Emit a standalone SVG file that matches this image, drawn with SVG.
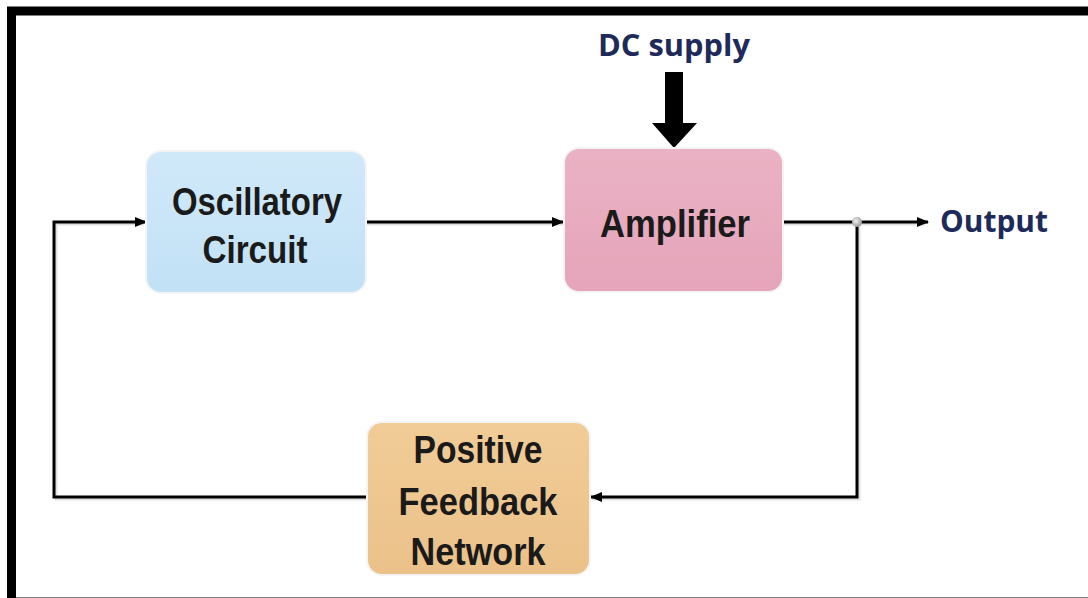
<svg xmlns="http://www.w3.org/2000/svg" width="1088" height="598" viewBox="0 0 1088 598">
  <defs>
    <marker id="ah" viewBox="0 0 12 10" refX="11" refY="5" markerWidth="13" markerHeight="10" markerUnits="userSpaceOnUse" orient="auto">
      <path d="M0,0 L12,5 L0,10 Z" fill="#000"/>
    </marker>
    <linearGradient id="gBlue" x1="0" y1="0" x2="0" y2="1">
      <stop offset="0" stop-color="#d0e9f9"/>
      <stop offset="1" stop-color="#c2e1f6"/>
    </linearGradient>
    <linearGradient id="gPink" x1="0" y1="0" x2="0" y2="1">
      <stop offset="0" stop-color="#eab2c4"/>
      <stop offset="1" stop-color="#e5a4b9"/>
    </linearGradient>
    <linearGradient id="gOrange" x1="0" y1="0" x2="0" y2="1">
      <stop offset="0" stop-color="#f1cc97"/>
      <stop offset="1" stop-color="#ebc189"/>
    </linearGradient>
    <radialGradient id="gDot" cx="0.4" cy="0.4" r="0.6">
      <stop offset="0" stop-color="#f2f2f2"/>
      <stop offset="1" stop-color="#9a9a9a"/>
    </radialGradient>
  </defs>
  <style>
    .box { stroke: #f4f4f4; stroke-width: 2; }
    .lbl { font-family: "Liberation Sans", Arial, sans-serif; font-weight: bold; font-size: 39px; fill: #1a1a1a; text-anchor: middle; }
    .io { font-family: "Open Sans", "Noto Sans", sans-serif; font-weight: bold; font-size: 31px; fill: #1e2a5a; }
    .wire { fill: none; stroke: #000; stroke-width: 3; }
    .shadow { fill: none; stroke: #000; stroke-width: 3; opacity: 0.12; }
  </style>
  <rect x="0" y="0" width="1088" height="598" fill="#fff"/>
  <rect x="11.5" y="11" width="1090" height="591" fill="none" stroke="#000" stroke-width="9"/>

  <g id="connectors">
    <path class="shadow" d="M367,224 L563,224"/>
    <path class="shadow" d="M783,224 L925,224"/>
    <path class="shadow" d="M859,224 L859,499 L592,499"/>
    <path class="shadow" d="M367,499 L56,499 L56,224 L144,224"/>
    <path class="wire" d="M366,222 L563,222" marker-end="url(#ah)"/>
    <path class="wire" d="M783,222 L928,222" marker-end="url(#ah)"/>
    <path class="wire" d="M857,222 L857,497 L591,497" marker-end="url(#ah)"/>
    <path class="wire" d="M367,497 L54,497 L54,222 L146,222" marker-end="url(#ah)"/>
    <circle cx="857" cy="222" r="5" fill="url(#gDot)"/>
    <path d="M665,72 L683,72 L683,123 L697,123 L674,148 L652,123 L665,123 Z" fill="#000"/>
  </g>

  <g id="oscillatory-circuit">
    <rect class="box" x="146" y="151" width="220" height="142" rx="15" fill="url(#gBlue)"/>
    <text class="lbl" x="257" y="215" textLength="170" lengthAdjust="spacingAndGlyphs">Oscillatory</text>
    <text class="lbl" x="255" y="263" textLength="105" lengthAdjust="spacingAndGlyphs">Circuit</text>
  </g>

  <g id="amplifier">
    <rect class="box" x="564" y="148" width="219" height="144" rx="15" fill="url(#gPink)"/>
    <text class="lbl" x="675" y="237" textLength="150" lengthAdjust="spacingAndGlyphs">Amplifier</text>
  </g>

  <g id="positive-feedback-network">
    <rect class="box" x="367" y="422" width="223" height="153" rx="15" fill="url(#gOrange)"/>
    <text class="lbl" x="478" y="463" textLength="129" lengthAdjust="spacingAndGlyphs">Positive</text>
    <text class="lbl" x="478" y="515" textLength="159" lengthAdjust="spacingAndGlyphs">Feedback</text>
    <text class="lbl" x="478" y="565" textLength="135" lengthAdjust="spacingAndGlyphs">Network</text>
  </g>

  <g id="dc-supply">
    <text class="io" x="674" y="56" text-anchor="middle" textLength="152" lengthAdjust="spacingAndGlyphs">DC supply</text>
  </g>

  <g id="output">
    <text class="io" x="940" y="232" textLength="108" lengthAdjust="spacingAndGlyphs">Output</text>
  </g>
</svg>
